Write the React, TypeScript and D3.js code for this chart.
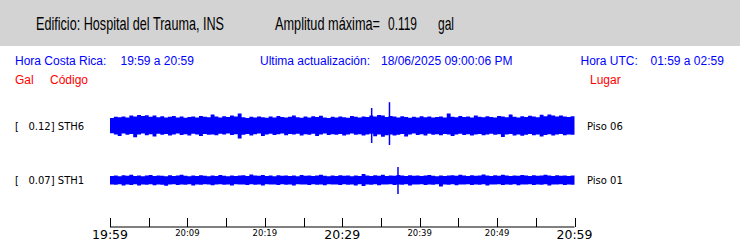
import React from "react";
import * as d3 from "d3";

const headerTitle = "Edificio: Hospital del Trauma, INS";
const ampLabel = "Amplitud máxima=";
const ampValue = "0.119";
const ampUnit = "gal";

const stations = ["STH6", "STH1"];
const stationMax = ["0.12", "0.07"];
const places = ["Piso 06", "Piso 01"];

// envelope amplitudes (gal), every 30 s across the hour
const up6 = [0.040,0.046,0.044,0.048,0.042,0.052,0.047,0.055,0.050,0.054,0.046,0.052,0.044,0.049,0.042,0.046,0.050,0.043,0.047,0.041,0.045,0.048,0.042,0.050,0.046,0.044,0.058,0.047,0.043,0.049,0.045,0.052,0.048,0.062,0.044,0.040,0.046,0.042,0.048,0.044,0.041,0.047,0.043,0.050,0.045,0.042,0.046,0.053,0.044,0.041,0.047,0.043,0.049,0.045,0.051,0.043,0.040,0.046,0.042,0.048,0.044,0.041,0.050,0.046,0.043,0.047,0.045,0.052,0.048,0.055,0.053,0.045,0.050,0.047,0.043,0.049,0.045,0.041,0.046,0.043,0.049,0.044,0.047,0.042,0.045,0.048,0.043,0.063,0.046,0.044,0.050,0.045,0.048,0.042,0.053,0.046,0.044,0.049,0.045,0.043,0.050,0.047,0.044,0.058,0.046,0.043,0.049,0.045,0.051,0.047,0.044,0.056,0.049,0.058,0.052,0.047,0.053,0.048,0.045,0.049];
const low6 = [0.036,0.042,0.050,0.038,0.044,0.040,0.056,0.042,0.038,0.046,0.041,0.052,0.039,0.044,0.040,0.048,0.042,0.038,0.045,0.041,0.047,0.039,0.043,0.050,0.040,0.044,0.042,0.046,0.039,0.043,0.038,0.045,0.041,0.062,0.044,0.040,0.047,0.041,0.038,0.050,0.042,0.039,0.045,0.041,0.038,0.046,0.040,0.043,0.039,0.048,0.041,0.044,0.039,0.050,0.042,0.038,0.045,0.041,0.044,0.040,0.047,0.042,0.038,0.044,0.041,0.048,0.042,0.039,0.051,0.043,0.054,0.046,0.042,0.048,0.044,0.040,0.052,0.042,0.038,0.045,0.041,0.047,0.039,0.044,0.041,0.046,0.040,0.043,0.050,0.042,0.039,0.045,0.041,0.048,0.043,0.040,0.046,0.042,0.039,0.044,0.041,0.055,0.043,0.040,0.047,0.042,0.049,0.044,0.040,0.046,0.042,0.053,0.045,0.041,0.048,0.043,0.040,0.046,0.042,0.044];
const up1 = [0.020,0.022,0.019,0.024,0.021,0.026,0.020,0.023,0.019,0.022,0.025,0.020,0.023,0.021,0.019,0.024,0.020,0.022,0.026,0.021,0.019,0.023,0.020,0.024,0.021,0.019,0.022,0.020,0.025,0.021,0.019,0.023,0.020,0.022,0.024,0.020,0.027,0.023,0.021,0.025,0.020,0.022,0.019,0.024,0.021,0.023,0.020,0.022,0.019,0.025,0.021,0.023,0.020,0.022,0.026,0.021,0.019,0.023,0.020,0.024,0.021,0.022,0.019,0.023,0.020,0.030,0.022,0.020,0.024,0.021,0.026,0.020,0.023,0.021,0.025,0.022,0.020,0.024,0.021,0.023,0.020,0.022,0.025,0.021,0.019,0.023,0.020,0.022,0.024,0.021,0.026,0.022,0.020,0.024,0.021,0.023,0.027,0.022,0.020,0.024,0.021,0.026,0.022,0.020,0.023,0.021,0.025,0.022,0.020,0.024,0.021,0.023,0.026,0.022,0.020,0.024,0.021,0.023,0.020,0.022];
const low1 = [0.022,0.024,0.021,0.027,0.022,0.025,0.021,0.028,0.022,0.024,0.021,0.026,0.022,0.024,0.029,0.022,0.021,0.025,0.022,0.024,0.021,0.027,0.022,0.024,0.021,0.023,0.026,0.022,0.021,0.024,0.022,0.028,0.021,0.023,0.022,0.025,0.021,0.024,0.022,0.027,0.021,0.023,0.022,0.025,0.021,0.024,0.022,0.028,0.021,0.023,0.022,0.025,0.021,0.024,0.022,0.026,0.021,0.023,0.022,0.025,0.021,0.024,0.022,0.027,0.021,0.030,0.022,0.024,0.021,0.026,0.022,0.023,0.021,0.025,0.022,0.024,0.021,0.028,0.022,0.023,0.021,0.025,0.022,0.024,0.021,0.032,0.022,0.024,0.021,0.026,0.022,0.023,0.021,0.025,0.022,0.024,0.021,0.027,0.022,0.023,0.021,0.025,0.022,0.024,0.021,0.026,0.022,0.023,0.021,0.025,0.022,0.024,0.021,0.027,0.022,0.023,0.021,0.025,0.022,0.024];

// spikes: minute, up (gal), down (gal)
const spikeMin6 = [33.8, 36.1];
const spikeUp6 = [0.090, 0.119];
const spikeDown6 = [0.085, 0.095];
const spikeMin1 = [37.2];
const spikeUp1 = [0.065];
const spikeDown1 = [0.070];

const tickMinutes = d3.range(0, 61, 5);
const tickLabelMinutes = [0, 10, 20, 30, 40, 50, 60];
const tickLabels = ["19:59", "20:09", "20:19", "20:29", "20:39", "20:49", "20:59"];

const W = 740, H = 241;
const x = d3.scaleLinear().domain([0, 60]).range([110, 574.5]);
const amp = d3.scaleLinear().domain([0, 0.12]).range([0, 24]);

function envPath(vals: number[], center: number, dir: number) {
  const n = vals.length;
  const pts = vals.map((v, i) => [i * 60 / n, v] as [number, number]);
  pts.push([60, vals[n - 1]]);
  const a = d3.area<[number, number]>()
    .x(d => x(d[0]))
    .y0(center)
    .y1(d => center - dir * amp(d[1]))
    .curve(d3.curveStepAfter);
  return a(pts) || "";
}

const blue = "#0000ff";
const red = "#ff0000";
const sans = "'Liberation Sans', Arial, sans-serif";
const dv = "'DejaVu Sans', sans-serif";
const SX = 0.7;

function HeadText({ x0, w, s }: { x0: number; w: number; s: string }) {
  return (
    <g transform={`translate(${x0},29.5) scale(${SX},1)`}>
      <text x={0} y={0} fontFamily={sans} fontSize={19} textLength={w / SX} lengthAdjust="spacingAndGlyphs" fill="#000">{s}</text>
    </g>
  );
}

export default function App() {
  const traces = [
    { center: 126, up: up6, low: low6, sm: spikeMin6, su: spikeUp6, sd: spikeDown6, labelY: 130 },
    { center: 180, up: up1, low: low1, sm: spikeMin1, su: spikeUp1, sd: spikeDown1, labelY: 184 },
  ];
  return (
    <svg width={W} height={H} style={{ position: "absolute", left: 0, top: 0, background: "#fff" }}>
      <rect x={0} y={0} width={W} height={46} fill="#d3d3d3" />
      <HeadText x0={36} w={188} s={headerTitle} />
      <HeadText x0={275} w={105} s={ampLabel} />
      <HeadText x0={388} w={29} s={ampValue} />
      <HeadText x0={438} w={16} s={ampUnit} />

      <g fontFamily={sans} fontSize={12} fill={blue}>
        <text x={15} y={65}>Hora Costa Rica:</text>
        <text x={120.5} y={65}>19:59 a 20:59</text>
        <text x={260} y={65}>Ultima actualización:</text>
        <text x={381} y={65}>18/06/2025 09:00:06 PM</text>
        <text x={580.5} y={65}>Hora UTC:</text>
        <text x={650.5} y={65}>01:59 a 02:59</text>
      </g>
      <g fontFamily={sans} fontSize={12} fill={red}>
        <text x={15} y={84}>Gal</text>
        <text x={50} y={84}>Código</text>
        <text x={590} y={84}>Lugar</text>
      </g>

      {traces.map((t, k) => (
        <g key={k}>
          <text x={15} y={t.labelY} fontFamily={dv} fontSize={10} fill="#000" style={{ whiteSpace: "pre" }}>{`[   ${stationMax[k]}] ${stations[k]}`}</text>
          <text x={587} y={t.labelY} fontFamily={dv} fontSize={10} fill="#000">{places[k]}</text>
          <path d={envPath(t.up, t.center, 1)} fill={blue} />
          <path d={envPath(t.low, t.center, -1)} fill={blue} />
          {t.sm.map((m, j) => (
            <line key={j} x1={x(m)} x2={x(m)} y1={t.center - amp(t.su[j])} y2={t.center + amp(t.sd[j])} stroke={blue} strokeWidth={1.5} />
          ))}
        </g>
      ))}

      <line x1={x(0)} x2={x(60)} y1={227} y2={227} stroke="#000" strokeWidth={1} />
      {tickMinutes.map(m => (
        <line key={m} x1={Math.round(x(m)) + 0.5} x2={Math.round(x(m)) + 0.5} y1={218} y2={227} stroke="#000" strokeWidth={1} />
      ))}
      {tickLabelMinutes.map((m, i) => {
        const big = m % 30 === 0;
        return (
          <text key={m} x={x(m)} y={big ? 239 : 236} textAnchor="middle" fontFamily={dv} fontSize={big ? 12.5 : 8.5} fill="#000">{tickLabels[i]}</text>
        );
      })}
    </svg>
  );
}
